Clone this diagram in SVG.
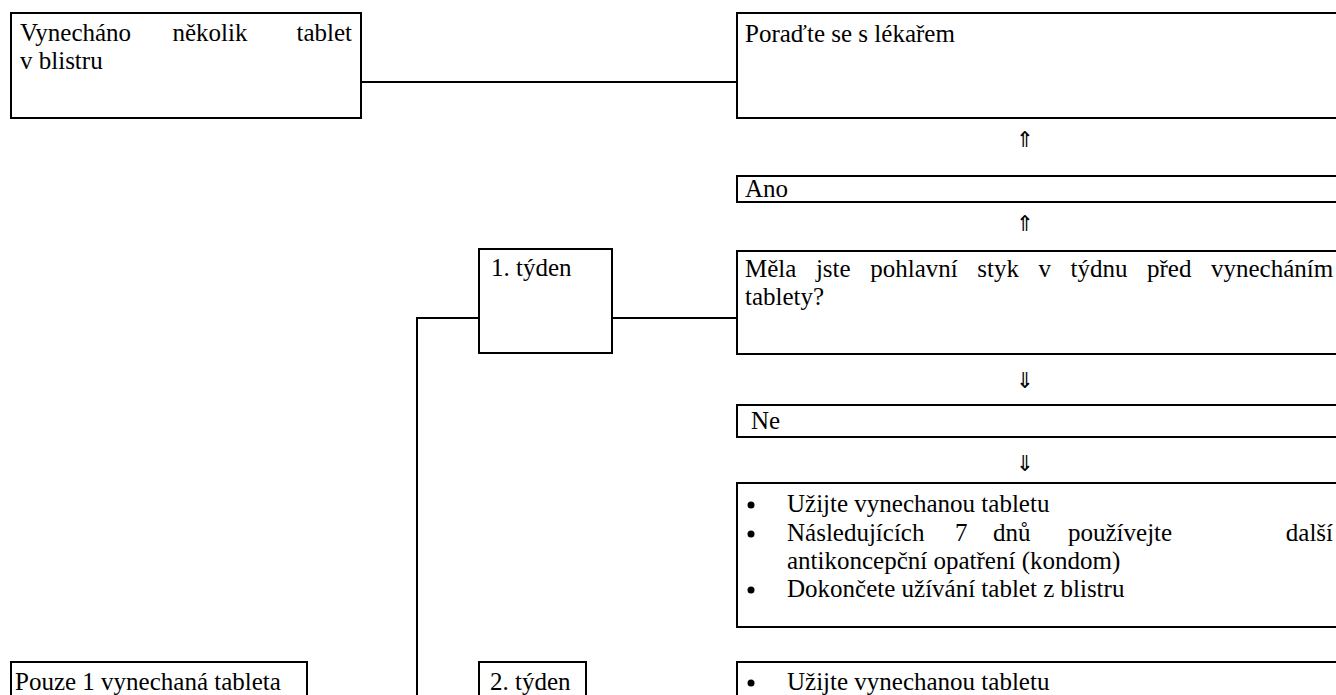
<svg xmlns="http://www.w3.org/2000/svg" width="1336" height="695" viewBox="0 0 1336 695">
<style>
.box{fill:#fff;stroke:#000;stroke-width:2}
.t{font-family:"Liberation Serif","Times New Roman",serif;font-size:25px;fill:#000}
.ar{font-family:"DejaVu Sans",sans-serif;font-size:22px;fill:#000;text-anchor:middle}
.ln{fill:none;stroke:#000;stroke-width:2}
.b{fill:#000}
</style>
<rect width="1336" height="695" fill="#fff"/>
<g id="connectors">
<line class="ln" x1="361" y1="82" x2="737" y2="82"/>
<line class="ln" x1="612" y1="318" x2="737" y2="318"/>
<polyline class="ln" points="479,318 417,318 417,696"/>
<text class="ar" x="1025" y="147">⇑</text>
<text class="ar" x="1025" y="231">⇑</text>
<text class="ar" x="1025" y="388">⇓</text>
<text class="ar" x="1025" y="471">⇓</text>
</g>
<g id="node-missed-several">
<rect class="box" x="11" y="13" width="350" height="105"/>
<text class="t" x="20" y="41">Vynecháno</text>
<text class="t" x="210" y="41" text-anchor="middle">několik</text>
<text class="t" x="352" y="41" text-anchor="end">tablet</text>
<text class="t" x="20" y="69">v blistru</text>
</g>
<g id="node-doctor">
<rect class="box" x="737" y="13" width="610" height="105"/>
<text class="t" x="745" y="42">Poraďte se s lékařem</text>
</g>
<g id="node-ano">
<rect class="box" x="737" y="176" width="610" height="26"/>
<text class="t" x="745" y="197">Ano</text>
</g>
<g id="node-week1">
<rect class="box" x="479" y="249" width="133" height="104"/>
<text class="t" x="491" y="276">1. týden</text>
</g>
<g id="node-question">
<rect class="box" x="737" y="251" width="610" height="103"/>
<text class="t" x="745" y="277" word-spacing="13.3">Měla jste pohlavní styk v týdnu před vynecháním</text>
<text class="t" x="745" y="305">tablety?</text>
</g>
<g id="node-ne">
<rect class="box" x="737" y="405" width="610" height="32"/>
<text class="t" x="751" y="429">Ne</text>
</g>
<g id="node-week1-actions">
<rect class="box" x="737" y="483" width="610" height="144"/>
<circle class="b" cx="751" cy="505" r="3.5"/>
<text class="t" x="787" y="512">Užijte vynechanou tabletu</text>
<circle class="b" cx="751" cy="534" r="3.5"/>
<text class="t" x="787" y="541">Následujících</text>
<text class="t" x="955" y="541">7</text>
<text class="t" x="993" y="541">dnů</text>
<text class="t" x="1068" y="541">používejte</text>
<text class="t" x="1333" y="541" text-anchor="end">další</text>
<text class="t" x="787" y="569">antikoncepční opatření (kondom)</text>
<circle class="b" cx="751" cy="590" r="3.5"/>
<text class="t" x="787" y="597">Dokončete užívání tablet z blistru</text>
</g>
<g id="node-only-one">
<rect class="box" x="11" y="662" width="296" height="50"/>
<text class="t" x="15" y="690">Pouze 1 vynechaná tableta</text>
</g>
<g id="node-week2">
<rect class="box" x="479" y="662" width="107" height="50"/>
<text class="t" x="490" y="690">2. týden</text>
</g>
<g id="node-week2-actions">
<rect class="box" x="737" y="662" width="610" height="50"/>
<circle class="b" cx="751" cy="683" r="3.5"/>
<text class="t" x="787" y="690">Užijte vynechanou tabletu</text>
</g>
</svg>
